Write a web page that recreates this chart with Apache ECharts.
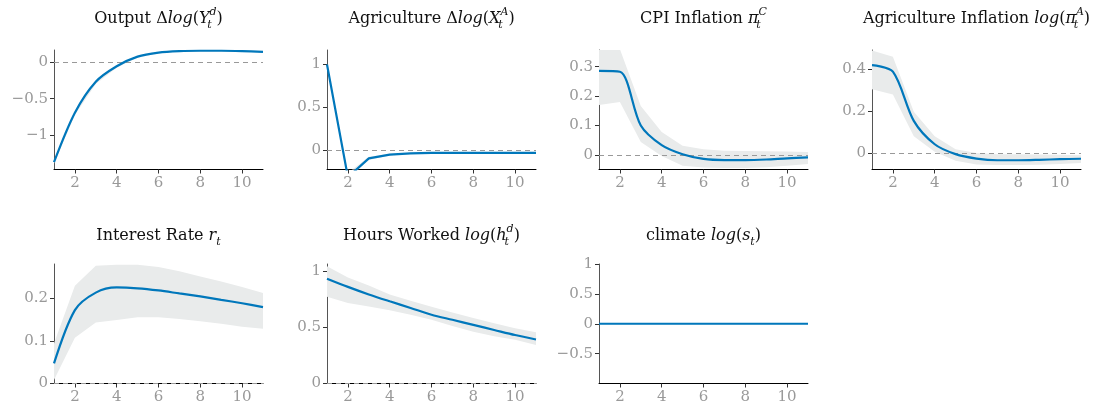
<!DOCTYPE html>
<html>
<head>
<meta charset="utf-8">
<script src="https://cdn.jsdelivr.net/npm/echarts@6/dist/echarts.min.js"></script>
<style>
  html, body { margin: 0; padding: 0; background: #fff; }
  #chart { width: 1103px; height: 414px; }
</style>
</head>
<body>
<div id="chart"></div>
<script>
// horizon
var periods = [1, 2, 3, 4, 5, 6, 7, 8, 9, 10, 11];
var xTicks = [2, 4, 6, 8, 10];

// Output
var outMean = [-1.36, -0.69, -0.27, -0.06, 0.07, 0.125, 0.145, 0.15, 0.15, 0.145, 0.135];
var outLo = [-1.38, -0.72, -0.30, -0.08, 0.06, 0.115, 0.14, 0.145, 0.145, 0.14, 0.13];
var outHi = [-1.34, -0.67, -0.25, -0.05, 0.08, 0.13, 0.15, 0.155, 0.155, 0.15, 0.14];
// Agriculture
var agrMean = [1.0, -0.32, -0.10, -0.055, -0.04, -0.035, -0.035, -0.035, -0.035, -0.035, -0.035];
var agrLo = [0.99, -0.34, -0.12, -0.065, -0.048, -0.042, -0.04, -0.04, -0.04, -0.04, -0.04];
var agrHi = [1.01, -0.27, -0.08, -0.045, -0.033, -0.03, -0.03, -0.03, -0.03, -0.03, -0.03];
// CPI inflation
var cpiMean = [0.286, 0.283, 0.10, 0.033, 0.002, -0.014, -0.018, -0.018, -0.016, -0.012, -0.009];
var cpiLo = [0.17, 0.18, 0.044, -0.004, -0.037, -0.043, -0.045, -0.045, -0.042, -0.037, -0.031];
var cpiHi = [0.36, 0.36, 0.166, 0.078, 0.031, 0.019, 0.014, 0.013, 0.012, 0.011, 0.01];
// Agriculture inflation
var ainfMean = [0.42, 0.389, 0.155, 0.044, -0.003, -0.024, -0.032, -0.032, -0.03, -0.027, -0.025];
var ainfLo = [0.305, 0.281, 0.082, 0.008, -0.035, -0.052, -0.055, -0.055, -0.054, -0.05, -0.045];
var ainfHi = [0.49, 0.46, 0.198, 0.082, 0.02, 0.003, -0.003, -0.004, -0.005, -0.006, -0.008];
// Interest rate
var rateMean = [0.047, 0.172, 0.213, 0.225, 0.223, 0.218, 0.211, 0.204, 0.196, 0.188, 0.179];
var rateLo = [0.008, 0.107, 0.143, 0.149, 0.155, 0.155, 0.151, 0.146, 0.14, 0.133, 0.128];
var rateHi = [0.094, 0.229, 0.276, 0.278, 0.278, 0.273, 0.263, 0.251, 0.239, 0.226, 0.212];
// Hours worked
var hoursMean = [0.93, 0.857, 0.79, 0.729, 0.67, 0.61, 0.565, 0.52, 0.475, 0.43, 0.39];
var hoursLo = [0.77, 0.714, 0.684, 0.65, 0.61, 0.565, 0.51, 0.46, 0.42, 0.387, 0.342];
var hoursHi = [1.04, 0.94, 0.87, 0.79, 0.735, 0.68, 0.63, 0.58, 0.535, 0.49, 0.455];
// climate
var climMean = [0, 0, 0, 0, 0, 0, 0, 0, 0, 0, 0];

var blue = '#0077BB';
var band = '#e9ebeb';
var serif = '"DejaVu Serif", "Liberation Serif", serif';

var panels = [
  { title: 'Output Δ{i|log}({i|Y}{s2|t}{sup|d})', mean: outMean, lo: outLo, hi: outHi,
    min: -1.46, max: 0.16, ticks: [-1, -0.5, 0], smooth: 0.3, pos: [54, 50] },
  { title: 'Agriculture Δ{i|log}({i|X}{s2|t}{sup|A})', mean: agrMean, lo: agrLo, hi: agrHi,
    min: -0.23, max: 1.17, ticks: [0, 0.5, 1], smooth: false, pos: [327, 50] },
  { title: 'CPI Inflation {i|π}{s2|t}{sup|C}', mean: cpiMean, lo: cpiLo, hi: cpiHi,
    min: -0.05, max: 0.357, ticks: [0, 0.1, 0.2, 0.3], smooth: 0.3, pos: [599, 50] },
  { title: 'Agriculture Inflation {i|log}({i|π}{s2|t}{sup|A})', mean: ainfMean, lo: ainfLo, hi: ainfHi,
    min: -0.076, max: 0.492, ticks: [0, 0.2, 0.4], smooth: 0.3, pos: [872, 50] },
  { title: 'Interest Rate {i|r}{sub|t}', mean: rateMean, lo: rateLo, hi: rateHi,
    min: 0, max: 0.28, ticks: [0, 0.1, 0.2], smooth: 0.3, pos: [54, 264] },
  { title: 'Hours Worked {i|log}({i|h}{s2|t}{sup|d})', mean: hoursMean, lo: hoursLo, hi: hoursHi,
    min: 0, max: 1.06, ticks: [0, 0.5, 1], smooth: 0.3, pos: [327, 264] },
  { title: 'climate {i|log}({i|s}{sub|t})', mean: climMean, lo: null, hi: null,
    min: -1, max: 1, ticks: [-0.5, 0, 0.5, 1], smooth: false, pos: [599, 264] }
];

function pairs(ys) {
  return periods.map(function (x, i) { return [x, ys[i]]; });
}

var grids = [], xAxes = [], yAxes = [], series = [], graphics = [];
var W = 209, H = 119.5;

panels.forEach(function (p, k) {
  grids.push({ left: p.pos[0], top: p.pos[1], width: W, height: H });
  xAxes.push({
    type: 'value', gridIndex: k, min: 1, max: 11,
    axisLine: { onZero: false, lineStyle: { color: '#000', width: 1 } },
    axisTick: { customValues: xTicks, length: 4, lineStyle: { color: '#333' } },
    axisLabel: { customValues: xTicks, color: '#999', fontFamily: serif, fontSize: 15, margin: 6 },
    splitLine: { show: false }
  });
  yAxes.push({
    type: 'value', gridIndex: k, min: p.min, max: p.max,
    axisLine: { show: true, onZero: false, lineStyle: { color: '#555', width: 1 } },
    axisTick: { show: true, customValues: p.ticks, length: 4, lineStyle: { color: '#333' } },
    axisLabel: {
      customValues: p.ticks, color: '#999', fontFamily: serif, fontSize: 15, margin: 6,
      formatter: function (v) { return String(v).replace('-', '\u2212'); }
    },
    splitLine: { show: false }
  });

  if (p.lo) {
    // shaded band between lo and hi, placed through the axes
    series.push({
      type: 'custom', xAxisIndex: k, yAxisIndex: k, z: 1, silent: true,
      data: periods.map(function (x, i) { return [x, p.lo[i], p.hi[i]]; }),
      encode: { x: 0, y: [1, 2] },
      renderItem: function (params, api) {
        if (params.dataIndex !== 0) return;
        var pts = [];
        periods.forEach(function (x, i) { pts.push(api.coord([x, p.hi[i]])); });
        for (var i = periods.length - 1; i >= 0; i--) pts.push(api.coord([periods[i], p.lo[i]]));
        var cs = params.coordSys;
        return {
          type: 'polygon',
          shape: { points: pts },
          style: { fill: band },
          clipPath: { type: 'rect', shape: { x: cs.x, y: cs.y, width: cs.width, height: cs.height } }
        };
      }
    });
  }
  series.push({
    type: 'line', xAxisIndex: k, yAxisIndex: k, data: pairs(p.mean),
    symbol: 'none', smooth: p.smooth,
    lineStyle: { color: blue, width: 2.2 }, z: 3,
    markLine: {
      silent: true, symbol: 'none', label: { show: false }, z: 2,
      lineStyle: { color: '#999', type: [5, 4], width: 1 },
      data: p.lo ? [{ yAxis: 0 }] : []
    }
  });

  graphics.push({
    type: 'text',
    x: p.pos[0] + W / 2,
    y: k < 4 ? 19 : 236,
    style: {
      text: p.title,
      align: 'center', verticalAlign: 'middle',
      fontFamily: serif, fontSize: 16, fill: '#111', lineHeight: 24,
      rich: {
        i: { fontFamily: serif, fontStyle: 'italic', fontSize: 16, fill: '#111', lineHeight: 24 },
        sup: { fontFamily: serif, fontStyle: 'italic', fontSize: 11, fill: '#111', lineHeight: 12, verticalAlign: 'top' },
        sub: { fontFamily: serif, fontStyle: 'italic', fontSize: 11, fill: '#111', lineHeight: 11, verticalAlign: 'bottom' },
        s2: { fontFamily: serif, fontStyle: 'italic', fontSize: 11, fill: '#111', lineHeight: 11, verticalAlign: 'bottom', width: 0 }
      }
    }
  });
});

var chart = echarts.init(document.getElementById('chart'));
chart.setOption({
  animation: false,
  backgroundColor: '#fff',
  grid: grids,
  xAxis: xAxes,
  yAxis: yAxes,
  series: series,
  graphic: graphics
});
</script>
</body>
</html>
